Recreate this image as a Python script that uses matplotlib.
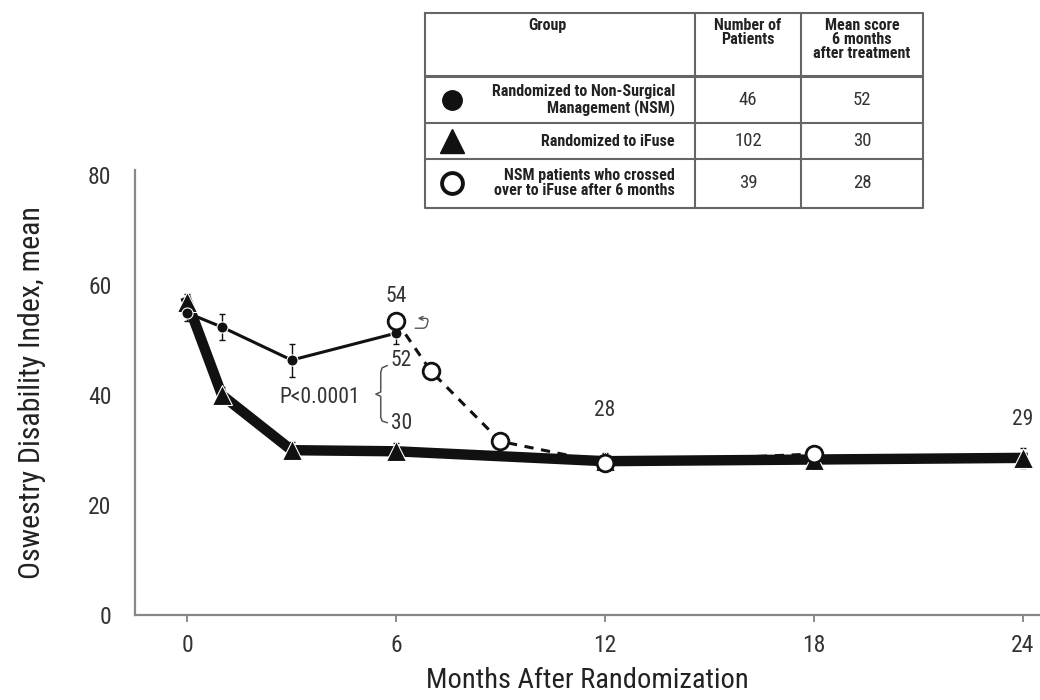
import numpy as np
import matplotlib
matplotlib.use("Agg")
import matplotlib.pyplot as plt
from matplotlib.patches import FancyArrowPatch

plt.rcParams['font.family'] = ['Roboto Condensed', 'DejaVu Sans']

# ---- data ----
ifuse_months = [0, 1, 3, 6, 12, 18, 24]
ifuse_odi = [57, 40, 30, 29.8, 28, 28.3, 28.6]
ifuse_err = [1.5, 1.5, 1.5, 1.5, 1.5, 1.5, 1.8]

nsm_months = [0, 1, 3, 6]
nsm_odi = [55, 52.4, 46.4, 51.3]
nsm_err = [1.5, 2.3, 3.0, 2.0]

cross_months = [6, 7, 9, 12, 18]
cross_odi = [53.6, 44.4, 31.6, 27.7, 29.3]

groups = ['Randomized to Non-Surgical\nManagement (NSM)',
          'Randomized to iFuse',
          'NSM patients who crossed\nover to iFuse after 6 months']
n_patients = [46, 102, 39]
mean_score = [52, 30, 28]

ink = '#111111'
grey = '#555555'
tc = '#333333'

fig = plt.figure(figsize=(10.4, 7), dpi=100)
ax = fig.add_axes([135/1040, 1 - 615/700, 905/1040, 445/700])

# iFuse: thick line with triangles
ax.errorbar(ifuse_months, ifuse_odi, yerr=ifuse_err, fmt='none', ecolor=ink,
            elinewidth=1, capsize=2.5, zorder=2)
ax.plot(ifuse_months, ifuse_odi, color=ink, lw=7.5, solid_joinstyle='miter', zorder=3)
ax.plot(ifuse_months, ifuse_odi, ls='none', marker='^', ms=15, color=ink,
        mec='white', mew=0.8, zorder=4)

# NSM: thin line with filled circles
ax.errorbar(nsm_months, nsm_odi, yerr=nsm_err, fmt='none', ecolor=ink,
            elinewidth=1, capsize=2.5, zorder=5)
ax.plot(nsm_months, nsm_odi, color=ink, lw=2.2, marker='o', ms=8,
        mfc=ink, mec='white', mew=0.8, zorder=6)

# crossover: dashed line with open circles
ax.plot(cross_months, cross_odi, color=ink, lw=2.2, ls=(0, (3, 2.5)), zorder=5)
ax.plot(cross_months, cross_odi, ls='none', marker='o', ms=12, mfc='white',
        mec=ink, mew=2, zorder=7)

# annotations
ann = dict(fontsize=15.5, color=tc)
ax.text(6, 58, '54', ha='center', va='center', **ann)
ax.text(5.85, 46.3, '52', ha='left', va='center', **ann)
ax.text(5.85, 34.9, '30', ha='left', va='center', **ann)
ax.text(12, 37.2, '28', ha='center', va='center', **ann)
ax.text(24, 35.6, '29', ha='center', va='center', **ann)
ax.text(3.8, 39.6, 'P<0.0001', ha='center', va='center', **ann)

# bracket joining 52 and 30
bx = [5.75, 5.6, 5.56, 5.56, 5.42, 5.56, 5.56, 5.6, 5.75]
by = [45.4, 45.0, 44.2, 40.6, 40.2, 39.8, 36.0, 35.3, 35.0]
ax.plot(bx, by, color=grey, lw=1.1, solid_capstyle='round')

# small curved arrow by the crossover point
ax.add_patch(FancyArrowPatch((6.55, 52.2), (6.62, 54.0),
                             connectionstyle='arc,angleA=0,angleB=0,armA=11,armB=11,rad=3.5',
                             arrowstyle='->', mutation_scale=7, lw=1.0, color=grey,
                             shrinkA=0, shrinkB=0, zorder=8))

ax.set_xlim(-1.5, 24.5)
ax.set_ylim(0, 81)
ax.set_xticks([0, 6, 12, 18, 24])
ax.set_yticks([0, 20, 40, 60, 80])
ax.tick_params(axis='x', length=5, width=1.2, color='#777777', pad=9)
ax.tick_params(axis='y', length=0, pad=17)
ax.tick_params(labelsize=17, labelcolor=tc)
for s in ['top', 'right']:
    ax.spines[s].set_visible(False)
for s in ['left', 'bottom']:
    ax.spines[s].set_color('#888888')
    ax.spines[s].set_linewidth(1.6)
ax.set_xlabel('Months After Randomization', fontsize=20.5, color='#222222', labelpad=7)
ax.set_ylabel('Oswestry Disability Index, mean', fontsize=21.5, color='#222222',
              labelpad=30)

# ---- table (top right) ----
tab = fig.add_axes([425/1040, 1 - 208/700, 498/1040, 195/700])
tab.set_xlim(0, 498)
tab.set_ylim(195, 0)
tab.axis('off')
lc = '#666666'
tab.plot([0, 498, 498, 0, 0], [0, 0, 195, 195, 0], color=lc, lw=1.5, clip_on=False)
for yy in [63, 110, 146]:
    tab.plot([0, 498], [yy, yy], color=lc, lw=1.5 if yy != 63 else 2.2)
for xx in [270, 376]:
    tab.plot([xx, xx], [0, 195], color=lc, lw=1.5)

hb = dict(fontsize=11.5, fontweight='bold', color='#222222', va='top', ha='center',
          linespacing=0.92)
tab.text(122, 5, 'Group', **hb)
tab.text(323, 5, 'Number of\nPatients', **hb)
tab.text(437, 5, 'Mean score\n6 months\nafter treatment', **hb)

row_y = [87, 128, 170]
markers = [dict(marker='o', ms=14, mfc=ink, mec=ink),
           dict(marker='^', ms=17, mfc=ink, mec=ink),
           dict(marker='o', ms=15, mfc='white', mec=ink, mew=2.8)]
for y, g, n, m, mk in zip(row_y, groups, n_patients, mean_score, markers):
    tab.plot([27], [y], ls='none', clip_on=False, **mk)
    tab.text(250, y, g, ha='right', va='center', fontsize=11.5, fontweight='bold',
             color='#222222', linespacing=0.95)
    tab.text(323, y, str(n), ha='center', va='center', fontsize=13.5, color=tc)
    tab.text(437, y, str(m), ha='center', va='center', fontsize=13.5, color=tc)

fig.savefig('out.png', dpi=100)
